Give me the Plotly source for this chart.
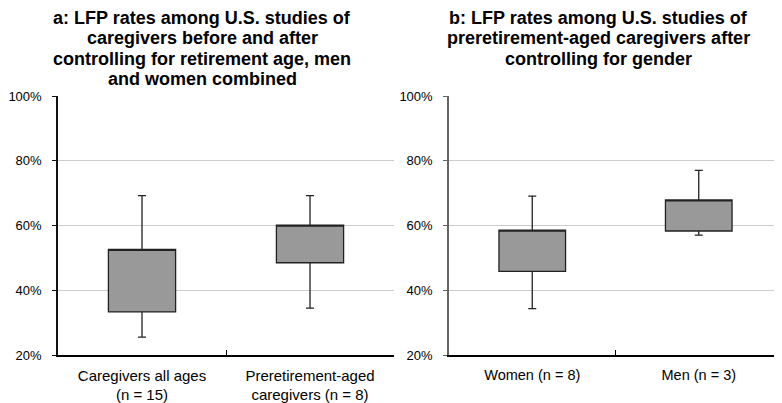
import plotly.graph_objects as go

# Panel a
cats_a = ["Caregivers all ages<br>(n = 15)", "Preretirement-aged<br>caregivers (n = 8)"]
low_a = [25.5, 34.5]
q1_a = [33.3, 48.5]
q3_a = [52.6, 60.1]
high_a = [69.2, 69.2]

# Panel b
cats_b = ["Women (n = 8)", "Men (n = 3)"]
low_b = [34.3, 57.0]
q1_b = [45.8, 58.3]
q3_b = [58.6, 67.9]
high_b = [69.1, 77.0]

yticks = [20, 40, 60, 80, 100]
ytick_text = ["20%", "40%", "60%", "80%", "100%"]

title_a = ["a: LFP rates among U.S. studies of", "caregivers before and after",
           "controlling for retirement age, men", "and women combined"]
title_b = ["b: LFP rates among U.S. studies of", "preretirement-aged caregivers after",
           "controlling for gender"]

FONT = "Liberation Sans, Arial, sans-serif"
OFF = 8  # page body margin
W, H = 782 - OFF, 403 - OFF

def fx(px):
    return (px - OFF) / W

def fy(py):
    return 1 - (py - OFF) / H

fig = go.Figure()

def add_box(cats, low, q1, q3, high, xa, ya):
    fig.add_trace(go.Box(
        x=cats, q1=q1, median=q3, q3=q3, lowerfence=low, upperfence=high,
        xaxis=xa, yaxis=ya, width=0.4, whiskerwidth=0.12,
        fillcolor="#999999", line=dict(color="#222222", width=1.3),
        boxpoints=False, hoverinfo="skip", showlegend=False,
    ))

add_box(cats_a, low_a, q1_a, q3_a, high_a, "x", "y")
add_box(cats_b, low_b, q1_b, q3_b, high_b, "x2", "y2")

xcommon = dict(range=[-0.5, 1.5], type="category", showgrid=False,
               showline=True, linecolor="#000000", linewidth=1.5,
               tickson="boundaries", ticks="inside", ticklen=5, tickcolor="#000000",
               tickwidth=1, fixedrange=True, automargin=False, ticklabelstandoff=6)
ycommon = dict(range=[20, 100], tickvals=yticks, ticktext=ytick_text,
               showgrid=True, gridcolor="#cccccc", gridwidth=1,
               showline=True, linewidth=1.5, ticks="outside", ticklen=4,
               zeroline=False, automargin=False, ticklabelstandoff=8)

annotations = []
line_y = [18, 38.5, 59, 79.5]
for i, t in enumerate(title_a):
    annotations.append(dict(text="<b>" + t + "</b>", xref="paper", yref="paper",
                            x=fx(202), y=fy(line_y[i]), xanchor="center", yanchor="middle",
                            showarrow=False, font=dict(size=18, family=FONT)))
for i, t in enumerate(title_b):
    annotations.append(dict(text="<b>" + t + "</b>", xref="paper", yref="paper",
                            x=fx(598), y=fy(line_y[i]), xanchor="center", yanchor="middle",
                            showarrow=False, font=dict(size=18, family=FONT)))

fig.update_layout(
    width=W, height=H,
    margin=dict(l=0, r=0, t=0, b=0),
    paper_bgcolor="white", plot_bgcolor="white",
    font=dict(family=FONT, size=12, color="#000000"),
    xaxis=dict(domain=[fx(58), fx(394)], anchor="y", tickfont=dict(size=15), **xcommon),
    yaxis=dict(domain=[fy(355), fy(96)], anchor="x", linecolor="#111111",
               tickcolor="#111111", tickfont=dict(size=13), **ycommon),
    xaxis2=dict(domain=[fx(449), fx(782)], anchor="y2", tickfont=dict(size=14.5), **xcommon),
    yaxis2=dict(domain=[fy(355), fy(96)], anchor="x2", linecolor="#666666",
                tickcolor="#666666", tickfont=dict(size=13), **ycommon),
    annotations=annotations,
)

fig.write_html("out.html")
